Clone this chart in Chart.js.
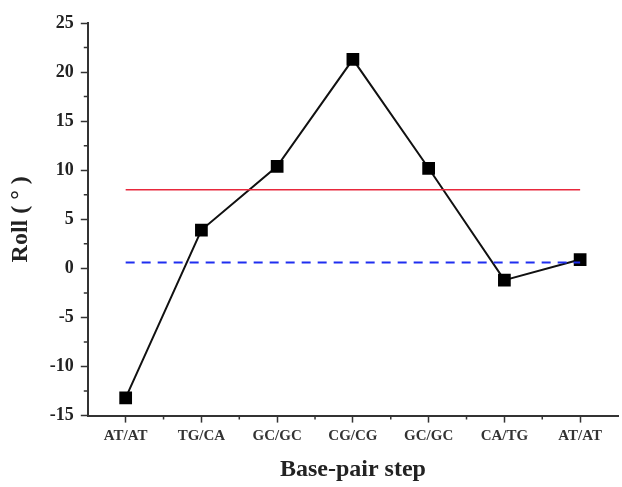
<!DOCTYPE html>
<html>
<head>
<meta charset="utf-8">
<script src="https://cdn.jsdelivr.net/npm/chart.js@4.4.0/dist/chart.umd.min.js"></script>
<style>
  html, body { margin: 0; padding: 0; background: #fff; overflow: hidden; }
  #wrap { width: 622px; height: 487px; }
  canvas { display: block; }
</style>
</head>
<body>
<div id="wrap"><canvas id="rollChart"></canvas></div>
<script>
// data
const steps = ["AT/AT", "TG/CA", "GC/GC", "CG/CG", "GC/GC", "CA/TG", "AT/AT"];
const rollValues = [-13.2, 3.9, 10.4, 21.3, 10.2, -1.2, 0.9];
const redLevel = 8.0;
const blueLevel = 0.6;
const yTicks = [-15, -10, -5, 0, 5, 10, 15, 20, 25];

const serif = "'Liberation Serif', 'Times New Roman', serif";

// minor ticks between the major ones
const minorTicks = {
    id: "minorTicks",
    afterDraw(chart) {
        const ctx = chart.ctx;
        const x = chart.scales.x, y = chart.scales.y;
        ctx.save();
        ctx.strokeStyle = "#333";
        ctx.lineWidth = 1.5;
        ctx.beginPath();
        for (let i = 0; i < yTicks.length - 1; i++) {
            const py = y.getPixelForValue((yTicks[i] + yTicks[i + 1]) / 2);
            ctx.moveTo(y.right, py);
            ctx.lineTo(y.right - 4, py);
        }
        for (let i = 0; i < steps.length - 1; i++) {
            const px = (x.getPixelForValue(i) + x.getPixelForValue(i + 1)) / 2;
            ctx.moveTo(px, x.top);
            ctx.lineTo(px, x.top + 4);
        }
        ctx.stroke();
        ctx.restore();
    }
};

new Chart(document.getElementById("rollChart"), {
    type: "line",
    data: {
        labels: steps,
        datasets: [
            {
                data: steps.map(() => redLevel),
                borderColor: "#e8283c",
                borderWidth: 1.5,
                pointRadius: 0
            },
            {
                data: steps.map(() => blueLevel),
                borderColor: "#1f2ef0",
                borderWidth: 2,
                borderDash: [9, 7],
                pointRadius: 0
            },
            {
                data: rollValues,
                borderColor: "#111",
                borderWidth: 2,
                pointStyle: "rect",
                pointRadius: 9,
                pointBackgroundColor: "#000",
                pointBorderColor: "#000",
                pointBorderWidth: 0
            }
        ]
    },
    options: {
        responsive: true,
        maintainAspectRatio: false,
        animation: false,
        layout: { autoPadding: false, padding: { top: 23, right: 4, left: 2, bottom: 0 } },
        plugins: { legend: { display: false }, tooltip: { enabled: false } },
        scales: {
            x: {
                offset: true,
                afterFit(scale) { scale.paddingRight = 0; scale.paddingLeft = 0; },
                border: { color: "#333", width: 2 },
                grid: { display: true, drawOnChartArea: false, tickLength: 7, tickWidth: 1.5, tickColor: "#333", offset: false },
                ticks: { color: "#333", font: { family: serif, size: 15, weight: "bold" }, padding: 5, maxRotation: 0 },
                title: { display: true, text: "Base-pair step", color: "#222", font: { family: serif, size: 24, weight: "bold", lineHeight: 1.1 }, padding: { top: 6 } }
            },
            y: {
                min: -15,
                max: 25,
                afterBuildTicks(axis) { axis.ticks = yTicks.map(v => ({ value: v })); },
                border: { color: "#333", width: 2 },
                grid: { display: true, drawOnChartArea: false, tickLength: 7, tickWidth: 1.5, tickColor: "#333" },
                ticks: { color: "#222", font: { family: serif, size: 18, weight: "bold" }, padding: 7 },
                title: { display: true, text: "Roll ( ° )", color: "#222", font: { family: serif, size: 24, weight: "bold" }, padding: { bottom: 8 } }
            }
        }
    },
    plugins: [minorTicks]
});
</script>
</body>
</html>
